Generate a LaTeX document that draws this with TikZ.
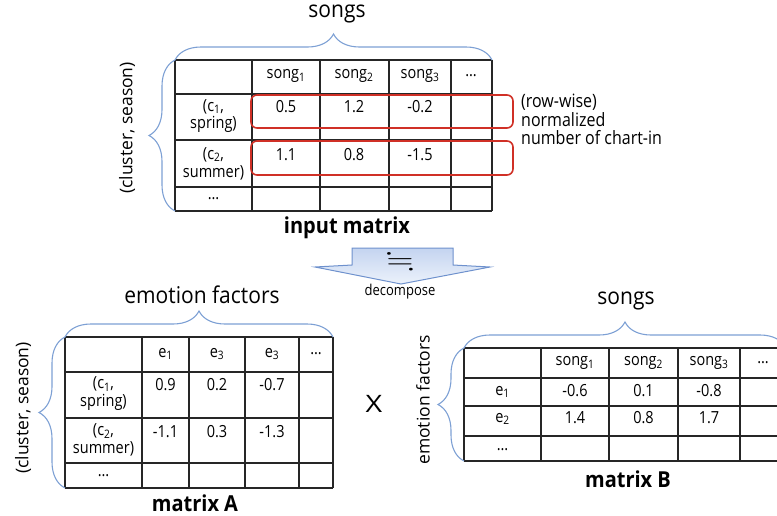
\documentclass[tikz,border=0pt]{standalone}
\usepackage{fontspec}
\setmainfont{Open Sans}
\usepackage{amssymb}
\usetikzlibrary{decorations.pathreplacing}
\definecolor{bracecol}{RGB}{125,160,212}
\definecolor{rowred}{RGB}{208,48,38}
\definecolor{arrline}{RGB}{110,145,205}
\definecolor{arrtop}{RGB}{196,212,240}
\definecolor{arrbot}{RGB}{236,242,251}

\begin{document}
\begin{tikzpicture}[x=1pt,y=-1pt,
  grid line/.style={draw=black!85,line width=1.1pt},
  brace line/.style={draw=bracecol,line width=1.1pt,decorate,decoration={brace,amplitude=26pt}},
  row box/.style={draw=rowred,line width=1.6pt,rounded corners=6pt},
  cell/.style={inner sep=0pt,yscale=1.15,font=\fontsize{14.5}{15.5}\selectfont,align=center},
  head text/.style={inner sep=0pt,yscale=1.1,font=\fontsize{21}{24}\selectfont},
  side text/.style={inner sep=0pt,rotate=90,font=\fontsize{17.5}{20}\selectfont},
  title text/.style={inner sep=0pt,yscale=1.1,font=\bfseries\fontsize{20}{22}\selectfont}]
\useasboundingbox (0,0) rectangle (777,515);
\clip (0,0) rectangle (777,515);

% input matrix
\foreach \x in {175,252,320,389,451,492} \draw[grid line] (\x,60) -- (\x,211);
\foreach \y in {60,94,140,187,211} \draw[grid line] (175,\y) -- (492,\y);
\coordinate (in-nw) at (175,60);
\coordinate (in-ne) at (492,60);
\coordinate (in-sw) at (175,211);
\foreach \i/\x in {1/286,2/354,3/420} \node[cell] (in-h\i) at (\x,76) {song\textsubscript{\i}};
\node[cell] (in-h4) at (471,76) {\dots};
\node[cell] (in-r1) at (213.5,116) {(c\textsubscript{1},\\spring)};
\node[cell] (in-r2) at (213.5,163.5) {(c\textsubscript{2},\\summer)};
\node[cell] (in-r3) at (213.5,199) {\dots};
\foreach \v/\x [count=\i] in {0.5/286,1.2/354,-0.2/420} \node[cell] (in-a\i) at (\x,107) {\v};
\foreach \v/\x [count=\i] in {1.1/286,0.8/354,-1.5/420} \node[cell] (in-b\i) at (\x,155) {\v};
\draw[row box] (251,95) rectangle (513,128);
\draw[row box] (251,141) rectangle (513,175);
\node[cell,anchor=north west,align=left,font=\fontsize{16}{16}\selectfont] (note) at (521,94) {(row-wise)\\normalized\\number of chart-in};
\draw[brace line] (in-nw) -- (in-ne);
\draw[brace line] (in-sw) -- (in-nw);
\node[head text] (in-cols) at (337,13.5) {songs};
\node[side text] (in-rows) at (127,128) {(cluster, season)};
\node[title text] (in-title) at (347,228) {input matrix};

% decompose arrow
\draw[draw=arrline,line width=1pt,top color=arrtop,bottom color=arrbot]
  (352,248) -- (453,248) -- (453,265) -- (490,267) -- (401,284) -- (315,267) -- (352,265) -- cycle;
\node[inner sep=0pt,xscale=1.3,font=\fontsize{27}{30}\selectfont] (approx) at (400,262) {$\fallingdotseq$};
\node[cell,font=\fontsize{13}{15}\selectfont] (dec) at (400,292) {decompose};

% matrix A
\foreach \x in {65,142,189,245,299,333} \draw[grid line] (\x,337) -- (\x,488);
\foreach \y in {337,372,418,463,488} \draw[grid line] (65,\y) -- (333,\y);
\coordinate (a-nw) at (65,337);
\coordinate (a-ne) at (333,337);
\coordinate (a-sw) at (65,488);
\foreach \i/\x in {1/165.5,3/217,3/272} \node[cell] at (\x,354) {e\textsubscript{\i}};
\node[cell] (a-h4) at (316,354) {\dots};
\node[cell] (a-r1) at (103.5,393.5) {(c\textsubscript{1},\\spring)};
\node[cell] (a-r2) at (103.5,440) {(c\textsubscript{2},\\summer)};
\node[cell] (a-r3) at (103.5,476) {\dots};
\foreach \v/\x [count=\i] in {0.9/165.5,0.2/217,-0.7/272} \node[cell] (a-a\i) at (\x,385) {\v};
\foreach \v/\x [count=\i] in {-1.1/165.5,0.3/217,-1.3/272} \node[cell] (a-b\i) at (\x,432) {\v};
\draw[brace line] (a-nw) -- (a-ne);
\draw[brace line] (a-sw) -- (a-nw);
\node[head text] (a-cols) at (202,295) {emotion factors};
\node[side text] (a-rows) at (23,408) {(cluster, season)};
\node[title text] (a-title) at (195,503) {matrix A};

\node[inner sep=0pt,xscale=1.2,font=\fontsize{24}{26}\selectfont] (times) at (374,404) {X};

% matrix B
\foreach \x in {464,541,609,678,740,786} \draw[grid line] (\x,348) -- (\x,461);
\foreach \y in {348,378,406,436,461} \draw[grid line] (464,\y) -- (786,\y);
\coordinate (b-nw) at (464,348);
\coordinate (b-ne) at (786,348);
\coordinate (b-sw) at (464,461);
\foreach \i/\x in {1/575,2/643.5,3/709} \node[cell] (b-h\i) at (\x,363) {song\textsubscript{\i}};
\node[cell] (b-h4) at (763,363) {\dots};
\node[cell] (b-r1) at (502.5,392) {e\textsubscript{1}};
\node[cell] (b-r2) at (502.5,419) {e\textsubscript{2}};
\node[cell] (b-r3) at (502.5,450) {\dots};
\foreach \v/\x [count=\i] in {-0.6/575,0.1/643.5,-0.8/709} \node[cell] (b-a\i) at (\x,391) {\v};
\foreach \v/\x [count=\i] in {1.4/575,0.8/643.5,1.7/709} \node[cell] (b-b\i) at (\x,418) {\v};
\draw[brace line] (b-nw) -- (b-ne);
\draw[brace line] (b-sw) -- (b-nw);
\node[head text] (b-cols) at (626,301) {songs};
\node[side text] (b-rows) at (423,400) {emotion factors};
\node[title text] (b-title) at (628,479) {matrix B};
\end{tikzpicture}
\end{document}
